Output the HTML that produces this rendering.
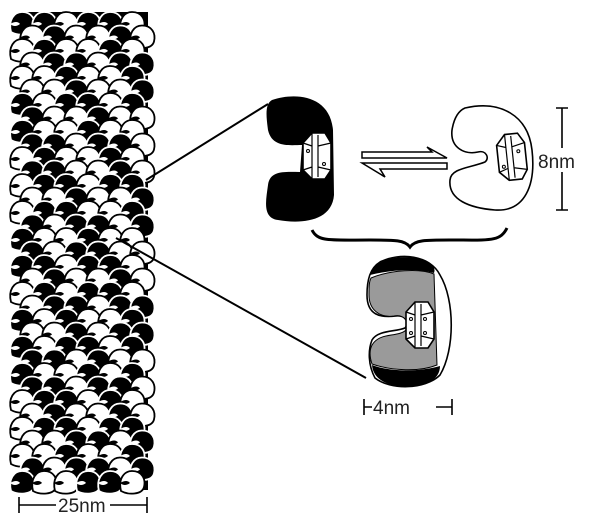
<!DOCTYPE html>
<html><head><style>
html,body{margin:0;padding:0;background:#fff;width:600px;height:526px;overflow:hidden}
svg{display:block}
text{font-family:"Liberation Sans",sans-serif;fill:#222}
</style></head><body>
<svg id="s" width="600" height="526" viewBox="0 0 600 526" xmlns="http://www.w3.org/2000/svg">
<defs>
<g id="hex">
<path d="M-13 -14 L-4 -24 L9 -24 L15 -14 L15 13 L9 22 L-4 22 L-13 13Z" fill="#fff" stroke="#000" stroke-width="1.6"/>
<path d="M-4 -24 L-4 22 M2 -22 L2 20 M-13 -14 L-4 -11 M15 -14 L2 -11 M-13 13 L-4 10 M15 13 L2 10" fill="none" stroke="#000" stroke-width="1.2"/>
</g>
</defs>
<g id="col"></g>
<!-- zoom lines -->
<line x1="146" y1="180" x2="268" y2="104" stroke="#000" stroke-width="2"/>
<line x1="116" y1="238" x2="366" y2="378" stroke="#000" stroke-width="2"/>
<!-- black monomer -->
<path d="M272 100 C295 92 330 95 333 130 L334 195 C332 222 300 224 278 220 C262 218 266 200 268 185 C270 170 285 172 300 172 L302 145 C290 145 272 148 268 130 C266 115 265 104 272 100Z" fill="#000"/>
<g transform="translate(316,157)"><use href="#hex"/>
<circle cx="-8" cy="-6" r="1.5" fill="none" stroke="#000"/><circle cx="8" cy="7" r="1.5" fill="none" stroke="#000"/></g>
<!-- arrows -->
<path d="M362 152 L432 152 L427 147 L447 158 L362 158 Z" fill="#fff" stroke="#000" stroke-width="1.5"/>
<path d="M447 163 L362 163 L385 177 L380 169 L447 169 Z" fill="#fff" stroke="#000" stroke-width="1.5"/>
<!-- white monomer -->
<path d="M465 108 C500 100 528 115 532 150 C536 185 525 212 495 210 C470 208 448 200 450 180 C451 168 470 168 485 162 C490 158 486 150 478 152 C465 155 450 148 452 130 C454 118 458 111 465 108Z" fill="#fff" stroke="#000" stroke-width="1.6"/>
<g transform="translate(511,158) rotate(-6)"><use href="#hex"/>
<circle cx="-8" cy="8" r="1.5" fill="none" stroke="#000"/><circle cx="8" cy="-6" r="1.5" fill="none" stroke="#000"/></g>
<!-- 8nm -->
<path d="M556 108 L568 108 M562 108 L562 148 M562 172 L562 210 M556 210 L568 210" stroke="#000" stroke-width="1.6"/>
<text x="538" y="168" font-size="19">8nm</text>
<!-- brace -->
<path d="M312 230 C318 242 330 240 370 240 C395 240 405 240 410 247 C415 240 425 240 450 240 C490 240 500 242 507 228" fill="none" stroke="#000" stroke-width="3"/>
<!-- bottom monomer -->
<path d="M380 262 C400 252 430 255 440 275 C455 300 455 350 440 375 C425 390 390 390 375 378 C368 365 368 350 372 340 C378 330 395 332 405 328 C410 322 405 315 396 316 C380 318 367 315 367 295 C367 280 370 268 380 262Z" fill="#fff" stroke="#000" stroke-width="1.6"/>
<path d="M370 275 C372 262 395 252 425 260 C432 263 436 268 434 273 C415 268 390 270 370 275Z" fill="#000"/>
<path d="M372 365 C390 372 420 372 440 366 C440 380 425 388 400 386 C385 385 373 378 372 365Z" fill="#000"/>
<path d="M371 278 C390 270 420 268 434 274 L437 365 C420 372 392 371 372 364 C368 352 370 344 378 339 C385 334 400 336 406 330 C410 322 404 314 394 316 C380 318 369 310 369 295 C369 287 369 282 371 278Z" fill="#9a9a9a" stroke="#000" stroke-width="1"/>
<g transform="translate(419,326)"><use href="#hex"/>
<circle cx="-8" cy="-7" r="1.5" fill="none" stroke="#000"/><circle cx="6" cy="-7" r="1.5" fill="none" stroke="#000"/>
<circle cx="-8" cy="7" r="1.5" fill="none" stroke="#000"/><circle cx="6" cy="7" r="1.5" fill="none" stroke="#000"/></g>
<!-- 4nm -->
<path d="M364 399 L364 415 M364 407 L372 407 M436 407 L452 407 M452 399 L452 415" stroke="#000" stroke-width="1.6"/>
<text x="373" y="414" font-size="19">4nm</text>
<!-- 25nm -->
<path d="M19 497 L19 513 M19 505 L56 505 M110 505 L147 505 M147 497 L147 513" stroke="#000" stroke-width="1.6"/>
<text x="58" y="512" font-size="19">25nm</text>
</svg>
<script>
var g=document.getElementById('col'),h='';
h+='<rect x="20" y="12" width="128" height="478" fill="#000"/>';
for(var r=0;r<35;r++){
 var y=24+r*13.5;
 var off=(r%2)*10;
 for(var c=0;c<6;c++){
  var x=28+c*22+off-6;
  if(x>146)continue;
  var ph=((c*3 - r)%9+9)%9;
  var black=(ph<4)||((c+r*7)%11==0);
  h+='<path d="M'+(x-11)+' '+(y+8)+' C'+(x-14)+' '+(y-4)+' '+(x-8)+' '+(y-12)+' '+x+' '+(y-12)+' C'+(x+10)+' '+(y-12)+' '+(x+14)+' '+(y-4)+' '+(x+12)+' '+(y+4)+' C'+(x+10)+' '+(y+12)+' '+(x-4)+' '+(y+12)+' '+(x-11)+' '+(y+8)+'Z" fill="'+(black?'#000':'#fff')+'" stroke="'+(black?'#fff':'#000')+'" stroke-width="1.8"/>';
  h+='<path d="M'+(x-12)+' '+(y)+' q7 -4 10 0 q-5 4 -10 0" fill="'+(black?'#fff':'#000')+'"/>';
 }
}
g.innerHTML=h;
</script>
</body></html>
